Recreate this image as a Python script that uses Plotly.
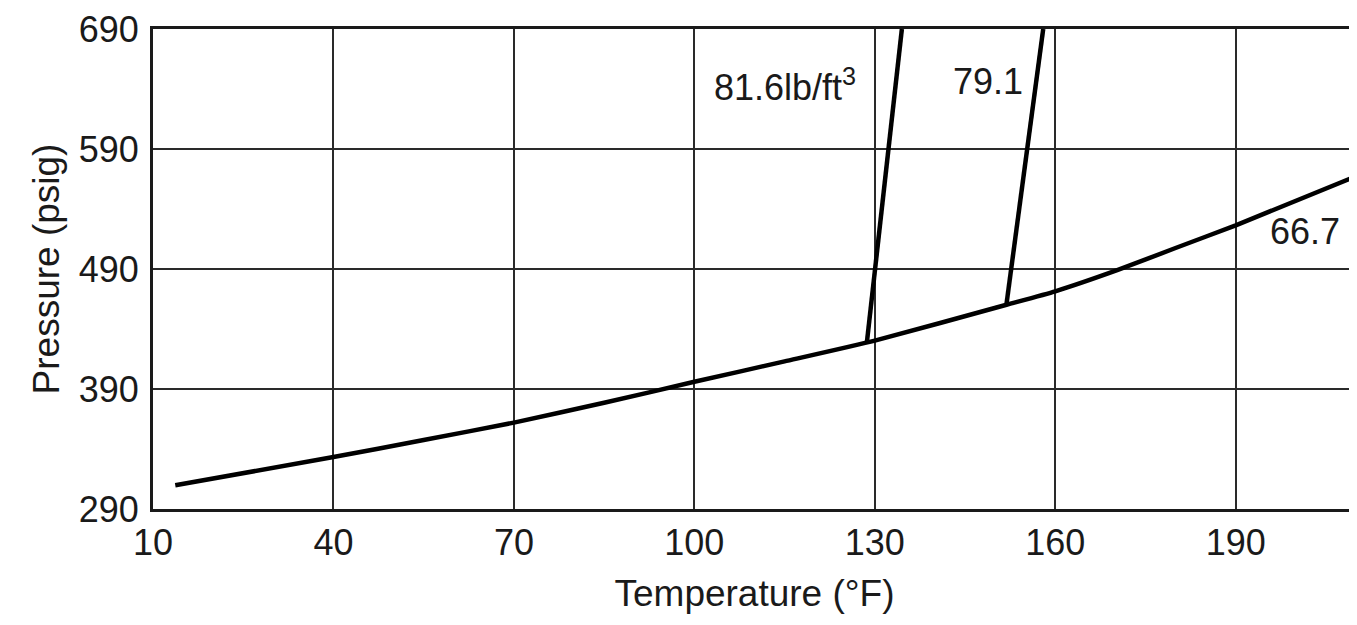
import plotly.graph_objects as go

# saturation curve (66.7 lb/ft3)
temp_sat = [13.7, 40, 55, 70, 85, 100, 115, 130, 151.9, 160, 170.3, 180, 190, 209.7]
press_sat = [309.8, 333.3, 347.5, 362, 378.5, 396, 413, 430.3, 460.2, 471.4, 489, 507.5, 526.4, 566.7]

# constant density lines
temp_816 = [128.7, 134.5]
press_816 = [429.5, 690]
temp_791 = [151.9, 158.0]
press_791 = [461, 690]

x_ticks = [10, 40, 70, 100, 130, 160, 190]
y_ticks = [290, 390, 490, 590, 690]

font_name = "Liberation Sans, Arial, sans-serif"
ink = "#1a1a1a"
line_style = dict(color="black", width=4.5)

fig = go.Figure()
fig.add_trace(go.Scatter(x=temp_sat, y=press_sat, mode="lines",
                         line=dict(color="black", width=4.5, shape="spline", smoothing=0.5)))
fig.add_trace(go.Scatter(x=temp_816, y=press_816, mode="lines", line=line_style))
fig.add_trace(go.Scatter(x=temp_791, y=press_791, mode="lines", line=line_style))

fig.add_annotation(x=115.1, y=643, text="81.6lb/ft<sup>3</sup>", showarrow=False,
                   font=dict(size=36, color=ink))
fig.add_annotation(x=148.8, y=646, text="79.1", showarrow=False,
                   font=dict(size=36, color=ink))
fig.add_annotation(x=201.6, y=521, text="66.7", showarrow=False,
                   font=dict(size=36, color=ink))

fig.update_xaxes(range=[10, 210], tickvals=x_ticks, ticks="", automargin=False,
                 showgrid=True, gridcolor="#2a2a2a", gridwidth=2,
                 showline=True, linecolor=ink, linewidth=3, mirror=True,
                 zeroline=False, tickfont=dict(size=36, color=ink),
                 title=dict(text="Temperature (°F)", font=dict(size=37, color=ink), standoff=18))
fig.update_yaxes(range=[290, 690], tickvals=y_ticks, ticks="", automargin=False,
                 showgrid=True, gridcolor="#2a2a2a", gridwidth=2,
                 showline=True, linecolor=ink, linewidth=3, mirror=True,
                 zeroline=False, tickfont=dict(size=36, color=ink), ticklabelstandoff=4,
                 title=dict(text="Pressure (psig)", font=dict(size=37, color=ink), standoff=8))

fig.update_layout(width=1351, height=619, showlegend=False,
                  margin=dict(l=145, r=3, t=21, b=118),
                  plot_bgcolor="white", paper_bgcolor="white",
                  font=dict(family=font_name))

fig.write_html("out.html")
